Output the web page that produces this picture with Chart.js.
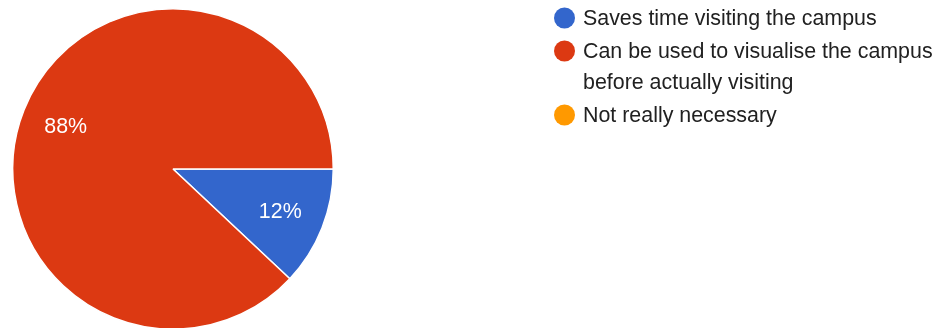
<!DOCTYPE html>
<html>
<head>
<meta charset="utf-8">
<script src="https://cdn.jsdelivr.net/npm/chart.js@4.4.0/dist/chart.umd.min.js"></script>
<style>
  html, body { margin: 0; padding: 0; background: #fff; overflow: hidden; }
  #wrap { position: relative; width: 941px; height: 340px; }
</style>
</head>
<body>
<div id="wrap"><canvas id="pie"></canvas></div>
<script>
// Survey answers and their share of responses
const answers = [
  ['Saves time visiting the campus'],
  ['Can be used to visualise the campus', 'before actually visiting'],
  ['Not really necessary']
];
const shares = [12, 88, 0];
const sliceColors = ['#3366cc', '#dc3912', '#ff9900'];

const FONT = '21.4px "Liberation Sans", Arial, sans-serif';

// percent text inside each slice
const sliceLabels = {
  id: 'sliceLabels',
  afterDatasetsDraw(chart) {
    const ctx = chart.ctx;
    const meta = chart.getDatasetMeta(0);
    const data = chart.data.datasets[0].data;
    const total = data.reduce((a, b) => a + b, 0);
    ctx.save();
    ctx.font = FONT;
    ctx.fillStyle = '#fff';
    ctx.textAlign = 'center';
    ctx.textBaseline = 'middle';
    meta.data.forEach((arc, i) => {
      if (!data[i]) return;
      const mid = (arc.startAngle + arc.endAngle) / 2;
      const r = arc.outerRadius * 0.72;
      const x = arc.x + Math.cos(mid) * r;
      const y = arc.y + Math.sin(mid) * r + 1;
      ctx.fillText(Math.round(data[i] / total * 100) + '%', x, y);
    });
    ctx.restore();
  }
};

// legend on the right, with wrapped lines
const sideLegend = {
  id: 'sideLegend',
  afterDraw(chart) {
    const ctx = chart.ctx;
    const labels = chart.data.labels;
    const colors = chart.data.datasets[0].backgroundColor;
    let y = 18;
    ctx.save();
    ctx.font = FONT;
    ctx.textBaseline = 'middle';
    labels.forEach((lines, i) => {
      ctx.fillStyle = colors[i];
      ctx.beginPath();
      ctx.arc(564.5, y, 10.5, 0, Math.PI * 2);
      ctx.fill();
      ctx.fillStyle = '#212121';
      lines.forEach((line, j) => {
        ctx.fillText(line, 583, y + 1 + j * 31);
      });
      y += (lines.length - 1) * 31 + 33;
    });
    ctx.restore();
  }
};

new Chart(document.getElementById('pie'), {
  type: 'pie',
  data: {
    labels: answers,
    datasets: [{
      data: shares,
      backgroundColor: sliceColors,
      borderColor: '#fff',
      borderWidth: 1.5
    }]
  },
  options: {
    responsive: true,
    maintainAspectRatio: false,
    animation: false,
    rotation: 90,
    layout: { padding: { left: 12, right: 607, top: 8, bottom: 10 } },
    plugins: {
      legend: { display: false },
      tooltip: { enabled: false }
    }
  },
  plugins: [sliceLabels, sideLegend]
});
</script>
</body>
</html>
